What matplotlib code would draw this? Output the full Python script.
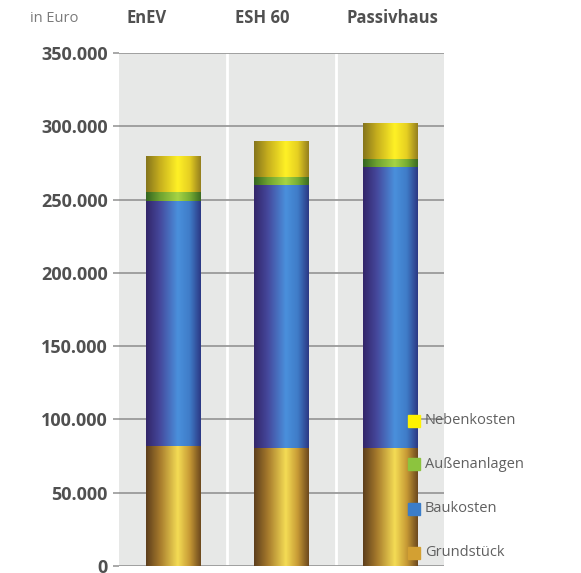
import numpy as np
import matplotlib.pyplot as plt
from matplotlib.colors import to_rgb
from matplotlib.patches import Rectangle
from matplotlib.ticker import FuncFormatter

plt.rcParams['font.family'] = ['Open Sans', 'DejaVu Sans']

varianten = ["EnEV", "ESH 60", "Passivhaus"]
grundstueck = [82000, 80500, 80500]
baukosten = [167000, 179500, 192000]
aussenanlagen = [6000, 5500, 5500]
nebenkosten = [24000, 24000, 24000]

# stacked from bottom to top
schichten = [
    ("Grundstück", grundstueck,
     ["#5e3f1c", "#a67a2c", "#f4dc55", "#c79a35", "#6e4a1e"], "#d3a032"),
    ("Baukosten", baukosten,
     ["#33266a", "#45489c", "#4a90dc", "#3f7cc8", "#2c3a86"], "#3b7dc9"),
    ("Außenanlagen", aussenanlagen,
     ["#356620", "#6ea230", "#a6d444", "#78ae34", "#3c6c22"], "#8cc43e"),
    ("Nebenkosten", nebenkosten,
     ["#86761c", "#c6ae1e", "#fff126", "#e6cf22", "#96801e"], "#fff200"),
]
stops = [0.0, 0.25, 0.58, 0.8, 1.0]


def verlauf(farben, n=64):
    # horizontal shading so each bar looks like a cylinder
    rgb = np.array([to_rgb(c) for c in farben])
    t = np.linspace(0, 1, n)
    img = np.stack([np.interp(t, stops, rgb[:, k]) for k in range(3)], axis=-1)
    return img[np.newaxis, :, :]


W, H = 581, 573
fig = plt.figure(figsize=(W / 100, H / 100), dpi=100)
ax = fig.add_axes([119 / W, 1 - 566 / H, 325 / W, 513 / H])
ax.set_facecolor("#e7e8e7")

x = np.arange(len(varianten))
breite = 0.5
boden = np.zeros(len(varianten))
for name, werte, farben, _ in schichten:
    img = verlauf(farben)
    for xi, b, v in zip(x, boden, werte):
        ax.imshow(img, extent=(xi - breite / 2, xi + breite / 2, b, b + v),
                  aspect="auto", interpolation="bilinear", zorder=3)
    boden = boden + np.array(werte)

ax.set_xlim(-0.5, 2.5)
ax.set_ylim(0, 350000)

# white separators between the columns
for sx in [0.5, 1.5]:
    ax.axvline(sx, color="white", lw=2, zorder=1)

ax.set_yticks(np.arange(0, 350001, 50000))
ax.yaxis.set_major_formatter(FuncFormatter(
    lambda v, p: "0" if v == 0 else f"{int(v):,}".replace(",", ".")))
ax.grid(axis="y", color="#9a9a9a", lw=1.3, zorder=2)
ax.set_axisbelow(False)
ax.set_xticks([])
for s in ax.spines.values():
    s.set_visible(False)
ax.tick_params(axis="y", length=4, width=1.2, color="#9a9a9a", pad=4,
               labelsize=13, labelcolor="#505050")
for lbl in ax.get_yticklabels():
    lbl.set_fontweight("bold")

# column headers above the plot
kopf_x = [127, 235, 346]
for px, name in zip(kopf_x, varianten):
    fig.text(px / W, 1 - 18 / H, name, ha="left", va="center",
             fontsize=12, fontweight="bold", color="#505050")
fig.text(30 / W, 1 - 18 / H, "in Euro", ha="left", va="center",
         fontsize=10.5, color="#7a7a7a")

# legend on the right
legende_y = [553, 509, 464, 421]
for (name, _, _, farbe), py in zip(schichten, legende_y):
    fig.patches.append(Rectangle((408 / W, 1 - (py + 6) / H), 12 / W, 12 / H,
                                 transform=fig.transFigure, color=farbe))
    fig.text(425 / W, 1 - py / H, name, ha="left", va="center",
             fontsize=10.5, color="#606060")

fig.savefig("out.png", dpi=100)
